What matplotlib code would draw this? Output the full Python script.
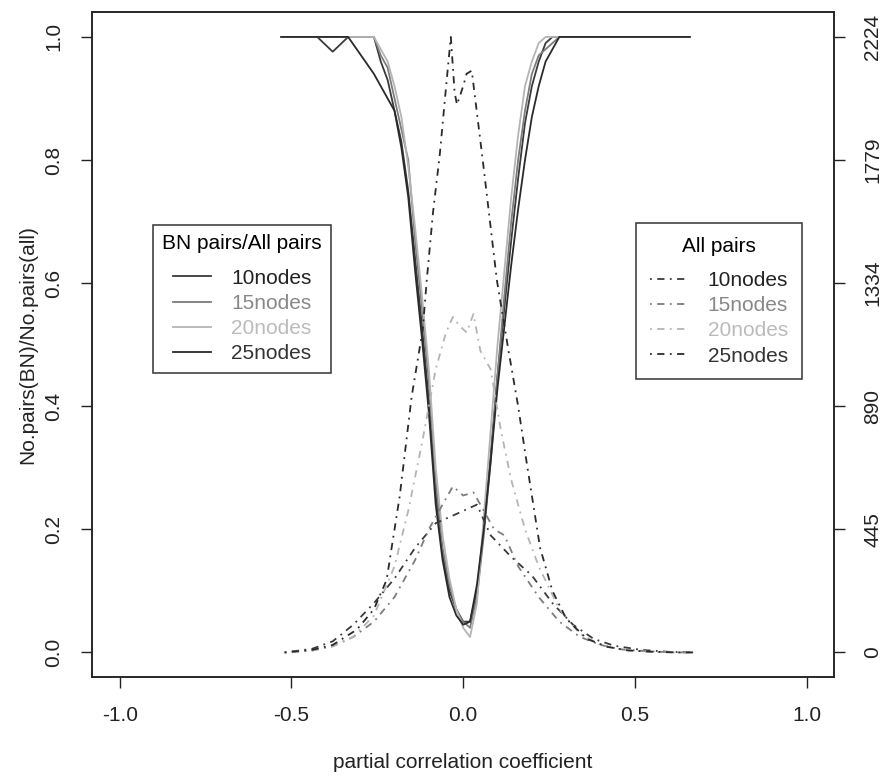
import matplotlib
matplotlib.use("Agg")
import matplotlib.pyplot as plt

plt.rcParams["font.family"] = ["Liberation Sans", "DejaVu Sans"]
plt.rcParams["font.size"] = 15

# ratio curves: No.pairs(BN)/No.pairs(all), shared x grid
x_ratio = [-0.53, -0.425, -0.38, -0.335, -0.26, -0.24, -0.22, -0.20, -0.18, -0.16,
           -0.14, -0.12, -0.10, -0.08, -0.06, -0.04, -0.02, 0.00, 0.02, 0.04,
           0.06, 0.08, 0.10, 0.12, 0.14, 0.16, 0.18, 0.20, 0.22, 0.24,
           0.26, 0.28, 0.30, 0.66]
ratio_10 = [1, 1, 0.976, 1, 1, 0.96, 0.93, 0.88, 0.83, 0.75,
            0.64, 0.53, 0.41, 0.26, 0.16, 0.10, 0.07, 0.05, 0.05, 0.10,
            0.20, 0.32, 0.45, 0.56, 0.67, 0.77, 0.86, 0.92, 0.96, 0.99,
            1, 1, 1, 1]
ratio_15 = [1, 1, 1, 1, 1, 0.97, 0.95, 0.90, 0.85, 0.80,
            0.67, 0.56, 0.44, 0.28, 0.17, 0.11, 0.07, 0.05, 0.04, 0.09,
            0.19, 0.31, 0.45, 0.58, 0.70, 0.80, 0.88, 0.94, 0.97, 0.98,
            0.99, 1, 1, 1]
ratio_20 = [1, 1, 1, 1, 1, 0.98, 0.96, 0.92, 0.87, 0.79,
            0.69, 0.58, 0.46, 0.30, 0.19, 0.12, 0.07, 0.04, 0.025, 0.08,
            0.22, 0.36, 0.50, 0.62, 0.74, 0.84, 0.92, 0.96, 0.99, 1,
            1, 1, 1, 1]
ratio_25 = [1, 1, 1, 1, 0.94, 0.92, 0.90, 0.88, 0.82, 0.74,
            0.62, 0.51, 0.39, 0.24, 0.15, 0.09, 0.06, 0.045, 0.05, 0.11,
            0.20, 0.31, 0.43, 0.53, 0.63, 0.72, 0.80, 0.87, 0.92, 0.96,
            0.98, 1, 1, 1]

# all pairs counts (right axis)
x_all_10 = [-0.52, -0.44, -0.38, -0.32, -0.26, -0.20, -0.14, -0.08, -0.02, 0.04,
            0.08, 0.14, 0.20, 0.26, 0.32, 0.38, 0.44, 0.52, 0.60, 0.67]
all_10 = [0, 13, 40, 100, 178, 267, 378, 467, 500, 534,
          423, 345, 278, 178, 100, 49, 24, 9, 2, 0]

x_all_15 = [-0.52, -0.44, -0.38, -0.32, -0.26, -0.20, -0.14, -0.10, -0.06, -0.03,
            0.00, 0.03, 0.06, 0.09, 0.12, 0.16, 0.22, 0.28, 0.34, 0.40,
            0.46, 0.54, 0.62, 0.67]
all_15 = [0, 7, 22, 56, 111, 200, 334, 445, 534, 600,
          567, 578, 512, 445, 423, 311, 200, 111, 56, 27,
          11, 4, 0, 0]

x_all_20 = [-0.52, -0.44, -0.38, -0.32, -0.26, -0.20, -0.16, -0.12, -0.08, -0.05,
            -0.03, -0.01, 0.01, 0.03, 0.05, 0.08, 0.11, 0.14, 0.18, 0.22,
            0.28, 0.34, 0.40, 0.46, 0.54, 0.62, 0.67]
all_20 = [0, 7, 22, 56, 133, 311, 512, 756, 1023, 1156,
          1212, 1179, 1156, 1223, 1090, 1023, 801, 623, 445, 311,
          156, 67, 27, 11, 2, 0, 0]

x_all_25 = [-0.52, -0.44, -0.38, -0.31, -0.26, -0.223, -0.185, -0.15, -0.118, -0.106,
            -0.088, -0.068, -0.048, -0.036, -0.025, -0.018, 0.0, 0.01, 0.025, 0.058,
            0.098, 0.13, 0.16, 0.185, 0.224, 0.26, 0.30, 0.36, 0.42, 0.48,
            0.56, 0.62, 0.67]
all_25 = [0, 9, 27, 82, 156, 262, 563, 925, 1165, 1346,
          1588, 1801, 2068, 2224, 2024, 1979, 2046, 2091, 2102, 1768,
          1346, 1105, 890, 685, 378, 222, 122, 49, 20, 7,
          2, 0, 0]

labels = ["10nodes", "15nodes", "20nodes", "25nodes"]
colors = ["#3a3a3a", "#7c7c7c", "#b4b4b4", "#2a2a2a"]
text_colors = ["#222222", "#888888", "#bbbbbb", "#333333"]
right_ticks = [0, 445, 890, 1334, 1779, 2224]
dotdash = (0, (1, 3, 4, 3))

fig = plt.figure(figsize=(8.82, 7.79), dpi=100)
ax = fig.add_axes([0.1047, 0.1309, 0.8409, 0.8533])
ax2 = ax.twinx()

ratio_lines = []
for y, c in zip([ratio_10, ratio_15, ratio_20, ratio_25], colors):
    ln, = ax.plot(x_ratio, y, color=c, lw=1.3)
    ratio_lines.append(ln)

all_lines = []
for x, y, c in zip([x_all_10, x_all_15, x_all_20, x_all_25],
                   [all_10, all_15, all_20, all_25], colors):
    ln, = ax2.plot(x, y, color=c, lw=1.3, linestyle=dotdash)
    all_lines.append(ln)

ax.set_xlim(-1.08, 1.08)
ax.set_ylim(-0.04, 1.04)
ax2.set_ylim(-0.04 * 2224, 1.04 * 2224)
ax.set_xticks([-1.0, -0.5, 0.0, 0.5, 1.0])
ax.set_yticks([0.0, 0.2, 0.4, 0.6, 0.8, 1.0])
ax2.set_yticks(right_ticks)
ax.set_xticklabels(["-1.0", "-0.5", "0.0", "0.5", "1.0"])

for a in (ax, ax2):
    a.tick_params(direction="out", length=8, width=1, colors="#222222", pad=13)
    for s in a.spines.values():
        s.set_color("#222222")
        s.set_linewidth(1.1)
ax.tick_params(axis="y", labelrotation=90)
ax2.tick_params(axis="y", labelrotation=90)
plt.setp(ax.get_yticklabels(), va="center")
plt.setp(ax2.get_yticklabels(), va="center")

ax.set_xlabel("partial correlation coefficient", color="#222222", labelpad=20)
ax.set_ylabel("No.pairs(BN)/No.pairs(all)", color="#222222", labelpad=5)


def make_legend(handles, title, loc, anchor, pad):
    leg = ax2.legend(handles, labels, title=title, loc=loc,
                     bbox_to_anchor=anchor, borderaxespad=0, fancybox=False,
                     framealpha=1, edgecolor="#333333", handlelength=1.85,
                     handletextpad=0.95, labelspacing=0.3, borderpad=pad,
                     labelcolor=text_colors, fontsize=15, title_fontsize=15)
    leg.get_frame().set_linewidth(1.1)
    # a bit more room between title and entries, like the R legend
    leg._legend_box.sep = 11
    return leg


leg1 = make_legend(ratio_lines, "BN pairs/All pairs", "upper left",
                   (0.0814, 0.680), 0.45)
ax2.add_artist(leg1)
leg2 = make_legend(all_lines, "All pairs", "upper right", (0.9565, 0.683), 0.65)

fig.savefig("out.png", dpi=100)
